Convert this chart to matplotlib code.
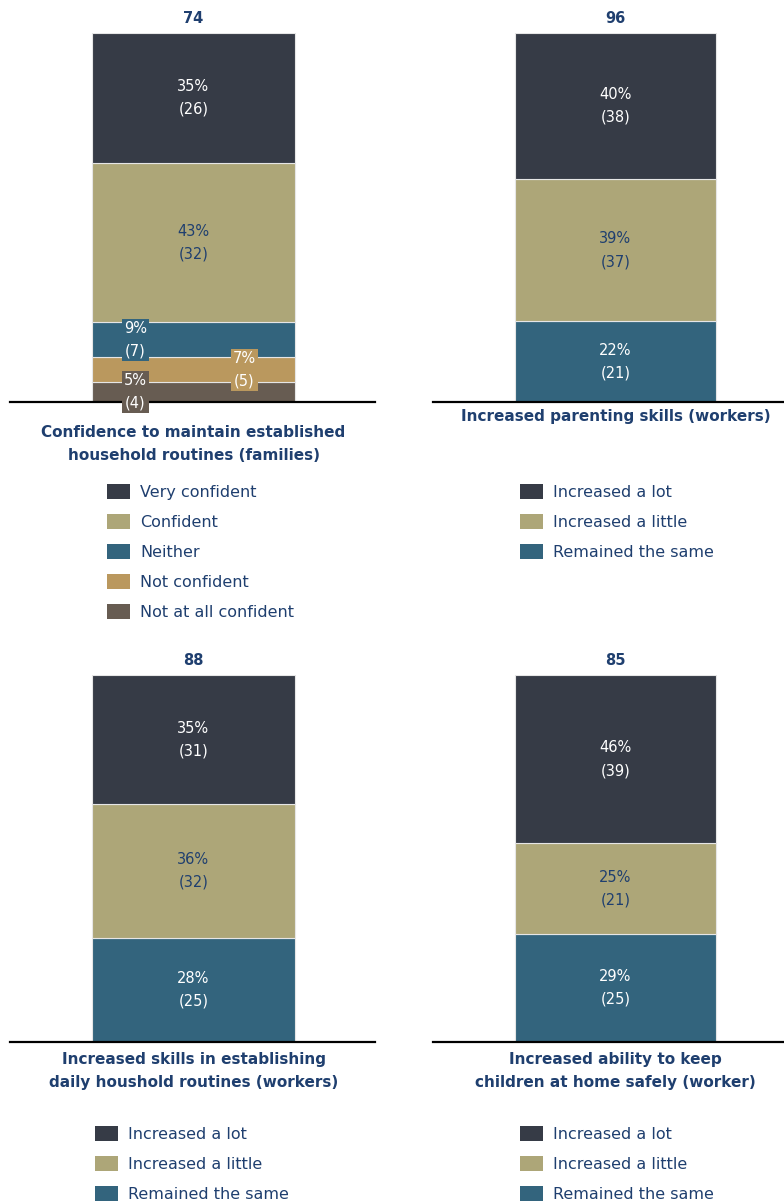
import matplotlib.pyplot as plt
from matplotlib.patches import Patch

# response counts, listed from the bottom of each stack upwards
family_labels = ['Not at all confident', 'Not confident', 'Neither', 'Confident', 'Very confident']
family_counts = [4, 5, 7, 32, 26]

worker_labels = ['Remained the same', 'Increased a little', 'Increased a lot']
parenting_counts = [21, 37, 38]
routines_counts = [25, 32, 31]
safety_counts = [25, 21, 39]

titles = [
    'Confidence to maintain established\nhousehold routines (families)',
    'Increased parenting skills (workers)',
    'Increased skills in establishing\ndaily houshold routines (workers)',
    'Increased ability to keep\nchildren at home safely (worker)',
]

NAVY = '#1F3F6F'
family_colors = ['#675C52', '#BA985E', '#33647D', '#ADA678', '#363B46']
worker_colors = ['#33647D', '#ADA678', '#363B46']

W, H = 784, 1202
fig = plt.figure(figsize=(W / 100, H / 100), dpi=100)
fig.patch.set_facecolor('white')


def text_color(col):
    return NAVY if col == '#ADA678' else 'white'


def draw_panel(box, bar_x, counts, labels, colors, title, title_y, leg_xy, shifts=None):
    left, top, right, bottom = box
    ax = fig.add_axes([left / W, 1 - bottom / H, (right - left) / W, (bottom - top) / H])
    c = (bar_x[0] + bar_x[1]) / 2
    width = bar_x[1] - bar_x[0]
    n = sum(counts)
    shares = [k / n for k in counts]

    base = 0
    for k, s, col in zip(counts, shares, colors):
        ax.bar(0, s, width=width, bottom=base, color=col, edgecolor='#E6E6E6', linewidth=0.8)
        base += s

    base = 0
    for i, (k, s, col) in enumerate(zip(counts, shares, colors)):
        dx = shifts.get(i, 0) if shifts else 0
        txt = '%d%%\n(%d)' % (round(100 * k / n), k)
        kw = {}
        if dx:
            kw['bbox'] = dict(boxstyle='square,pad=0.15', facecolor=col, edgecolor='none')
        ax.text(dx, base + s / 2, txt, ha='center', va='center', fontsize=10.5,
                color=text_color(col), linespacing=1.65, zorder=5, clip_on=False, **kw)
        base += s

    ax.annotate(str(n), xy=(0, 1), xytext=(0, 10.3), textcoords='offset points',
                ha='center', va='center', fontsize=10.5, fontweight='bold', color=NAVY)

    ax.set_xlim(left - c, right - c)
    ax.set_ylim(0, 1)
    for sp in ['top', 'left', 'right']:
        ax.spines[sp].set_visible(False)
    ax.spines['bottom'].set_linewidth(1.6)
    ax.spines['bottom'].set_color('black')
    ax.set_xticks([])
    ax.set_yticks([])
    ax.patch.set_alpha(0)

    fig.text(c / W, 1 - title_y / H, title, ha='center', va='center', fontsize=11,
             fontweight='bold', color=NAVY, linespacing=1.6)

    handles = [Patch(facecolor=col, edgecolor='none') for col in colors[::-1]]
    leg = fig.legend(handles, labels[::-1], loc='upper left',
                     bbox_to_anchor=(leg_xy[0] / W, 1 - leg_xy[1] / H),
                     frameon=False, fontsize=11.5, handlelength=1.44, handleheight=1.07,
                     handletextpad=0.63, labelspacing=0.88, borderpad=0, borderaxespad=0)
    for t in leg.get_texts():
        t.set_color(NAVY)


draw_panel((10, 33, 375, 402), (92, 295), family_counts, family_labels, family_colors,
           titles[0], 444, (107, 484), shifts={0: -58, 1: 51, 2: -58})
draw_panel((433, 33, 784, 402), (515, 716), parenting_counts, worker_labels, worker_colors,
           titles[1], 417, (520, 484))
draw_panel((10, 675, 375, 1042), (92, 295), routines_counts, worker_labels, worker_colors,
           titles[2], 1071, (95, 1126))
draw_panel((433, 675, 784, 1042), (515, 716), safety_counts, worker_labels, worker_colors,
           titles[3], 1071, (520, 1126))

fig.savefig('out.png', dpi=100)
